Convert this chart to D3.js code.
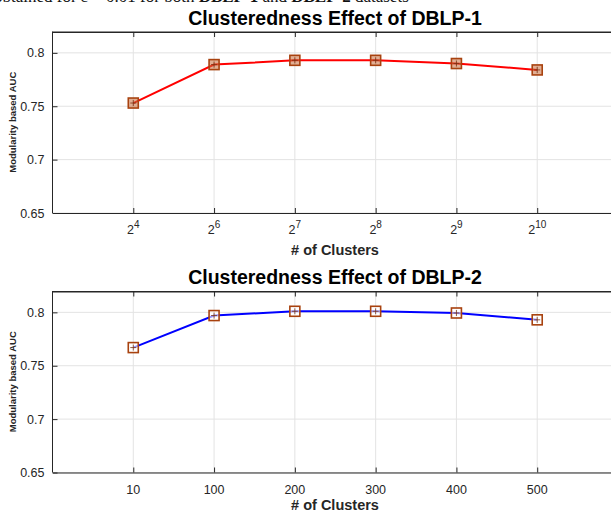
<!DOCTYPE html>
<html><head><meta charset="utf-8">
<script src="https://cdn.jsdelivr.net/npm/d3@7"></script>
<style>body{margin:0;background:#fff;overflow:hidden}svg{display:block}</style>
</head><body>
<script>
// Data
const categories1 = ["4", "6", "7", "8", "9", "10"]; // exponents of 2
const values1 = [0.753, 0.789, 0.793, 0.793, 0.790, 0.784];
const categories2 = ["10", "100", "200", "300", "400", "500"];
const values2 = [0.767, 0.797, 0.801, 0.801, 0.7994, 0.793];
const yTicks = [0.65, 0.7, 0.75, 0.8];
const titles = ["Clusteredness Effect of DBLP-1", "Clusteredness Effect of DBLP-2"];

const W = 611, H = 512;
const svg = d3.select("body").append("svg").attr("width", W).attr("height", H);
const font = "Liberation Sans, Arial, Helvetica, sans-serif";

// clipped caption text from the page above
svg.append("text").attr("x", -6).attr("y", 2).attr("font-family", "Liberation Serif, Times New Roman, serif")
  .attr("font-size", 17).attr("fill", "#111")
  .html('obtained for ε = 0.01 for both <tspan font-weight="bold">DBLP-1</tspan> and <tspan font-weight="bold">DBLP-2</tspan> datasets');

function panel(top, bottom, cats, vals, lineColor, title, superscript, markerFill, xlabY) {
  const left = 52.5, right = 618;
  const x = d3.scaleLinear().domain([0, 7]).range([left, right]);
  const y = d3.scaleLinear().domain([0.65, 0.82]).range([bottom, top]);
  const g = svg.append("g");
  const idx = cats.map((c, i) => i + 1);
  // grid
  g.selectAll(".gy").data(yTicks).join("line")
    .attr("x1", left).attr("x2", right).attr("y1", d => y(d)).attr("y2", d => y(d))
    .attr("stroke", "#e3e3e3").attr("stroke-width", 1);
  g.selectAll(".gx").data(idx).join("line")
    .attr("x1", d => x(d)).attr("x2", d => x(d)).attr("y1", top).attr("y2", bottom)
    .attr("stroke", "#e3e3e3").attr("stroke-width", 1);
  // box
  g.append("line").attr("x1", left).attr("x2", right).attr("y1", top + 0.5).attr("y2", top + 0.5).attr("stroke", "#262626");
  // axes
  const xAxis = d3.axisBottom(x).tickValues(idx).tickSizeInner(-5).tickSizeOuter(0).tickFormat("");
  const ax = g.append("g").attr("transform", `translate(0,${bottom})`).call(xAxis);
  ax.select(".domain").attr("stroke", "#262626");
  ax.selectAll(".tick line").attr("stroke", "#262626");
  const xTop = d3.axisTop(x).tickValues(idx).tickSizeInner(-5).tickSizeOuter(0).tickFormat("");
  const axt = g.append("g").attr("transform", `translate(0,${top + 0.5})`).call(xTop);
  axt.select(".domain").attr("stroke", "#262626");
  axt.selectAll(".tick line").attr("stroke", "#262626");
  const yAxis = d3.axisLeft(y).tickValues(yTicks).tickSizeInner(-5).tickSizeOuter(0).tickPadding(8)
    .tickFormat(d => d3.format("")(+d.toFixed(2)));
  const ay = g.append("g").attr("transform", `translate(${left},0)`).call(yAxis);
  ay.select(".domain").attr("stroke", "#262626").attr("d", `M0,${top}V${bottom}`);
  ay.selectAll(".tick line").attr("stroke", "#262626");
  ay.selectAll("text").attr("font-family", font).attr("font-size", 12.5).attr("fill", "#262626");
  // x tick labels
  const lbl = g.selectAll(".xl").data(cats).join("text")
    .attr("x", (d, i) => x(i + 1)).attr("y", bottom + 21)
    .attr("text-anchor", "middle").attr("font-family", font).attr("font-size", 12.5).attr("fill", "#262626");
  if (superscript) {
    lbl.each(function(d) {
      const t = d3.select(this);
      t.append("tspan").text("2");
      t.append("tspan").attr("dy", -6).attr("font-size", 10).text(d);
    });
  } else {
    lbl.text(d => d);
  }
  // axis labels
  g.append("text").attr("x", 335).attr("y", xlabY).attr("text-anchor", "middle")
    .attr("font-family", font).attr("font-weight", "bold").attr("font-size", 14.5).attr("fill", "#262626")
    .text("# of Clusters");
  g.append("text").attr("transform", `translate(16,${(top + bottom) / 2}) rotate(-90)`)
    .attr("text-anchor", "middle").attr("font-family", font).attr("font-weight", "bold")
    .attr("font-size", 9.5).attr("fill", "#262626").text("Modularity based AUC");
  // title
  g.append("text").attr("x", 335).attr("y", top - 7).attr("text-anchor", "middle")
    .attr("font-family", font).attr("font-weight", "bold").attr("font-size", 19.5).attr("fill", "#000")
    .text(title);
  // line
  const line = d3.line().x((d, i) => x(i + 1)).y(d => y(d));
  g.append("path").datum(vals).attr("d", line).attr("fill", "none").attr("stroke", lineColor).attr("stroke-width", 2);
  // markers
  const m = g.selectAll(".mk").data(vals).join("g")
    .attr("transform", (d, i) => `translate(${x(i + 1)},${y(d)})`);
  m.append("rect").attr("x", -5).attr("y", -5).attr("width", 10).attr("height", 10)
    .attr("fill", markerFill).attr("stroke", "#a8420f").attr("stroke-width", 1.6);
  m.append("path").attr("d", "M-3,0H3M0,-3V3").attr("stroke", "#7a3010").attr("stroke-width", 0.8);
}

panel(31.5, 213, categories1, values1, "#ff0000", titles[0], true, "rgba(200,110,60,0.55)", 255);
panel(291, 472.5, categories2, values2, "#0000ff", titles[1], false, "rgba(255,255,255,0.6)", 510);
</script>
</body></html>
